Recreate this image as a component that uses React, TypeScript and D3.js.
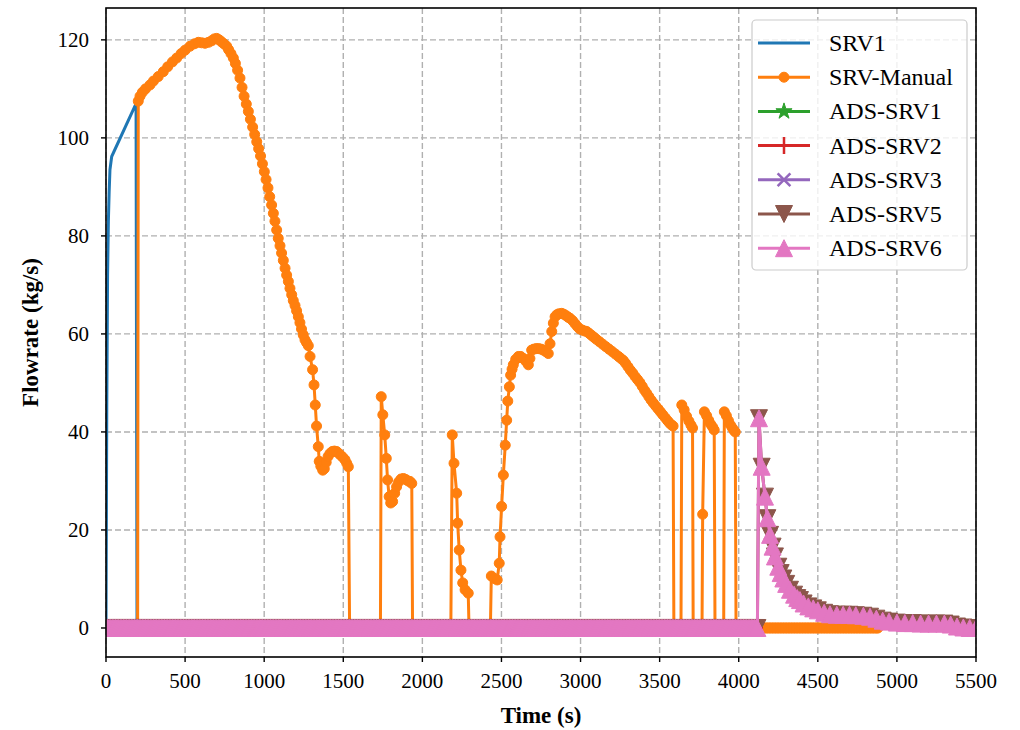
import React from "react";
import * as d3 from "d3";

// ---------------- data ----------------
const xTicks = [0, 500, 1000, 1500, 2000, 2500, 3000, 3500, 4000, 4500, 5000, 5500];
const yTicks = [0, 20, 40, 60, 80, 100, 120];
const xLabel = "Time (s)";
const yLabel = "Flowrate (kg/s)";
const seriesNames = ["SRV1", "SRV-Manual", "ADS-SRV1", "ADS-SRV2", "ADS-SRV3", "ADS-SRV5", "ADS-SRV6"];

// simulation output interval used for long zero-flow stretches (s)
const OUTPUT_STEP = 10;

// SRV1
const srv1Time = [0, 5, 10, 15, 20, 25, 36, 190, 196, 5500];
const srv1Flow = [0, 45, 72, 83, 89, 93.5, 96.2, 107, 0, 0];

// SRV-Manual (non-zero samples)
const manualTime = [
  204, 215, 230, 250, 278, 300, 330, 362, 390, 420, 447, 475, 500, 531, 560, 584, 605, 626, 648, 668,
  685, 700, 715, 730, 745, 763, 775, 790, 805, 818, 832, 847, 860, 873, 887, 900, 913, 927, 940, 953,
  965, 977, 989, 1001, 1012, 1024, 1035, 1047, 1058, 1068, 1079, 1089, 1100, 1110, 1121, 1132, 1142,
  1153, 1163, 1174, 1184, 1195, 1205, 1216, 1226, 1236, 1247, 1258, 1268, 1279, 1290, 1306, 1315,
  1323, 1331, 1342, 1348, 1358, 1370, 1380, 1392, 1404, 1416, 1430, 1444, 1458, 1472, 1485, 1498,
  1511, 1522, 1532,
  1740, 1750, 1762, 1772, 1780, 1790, 1800, 1812, 1825, 1837, 1850, 1865, 1880, 1895, 1910, 1922, 1933,
  2189, 2200, 2217, 2223, 2233, 2244, 2255, 2270, 2290,
  2436, 2455, 2473, 2486, 2491, 2501, 2512, 2524, 2533, 2540, 2550, 2558, 2567, 2575, 2590, 2607,
  2622, 2638, 2655, 2670, 2680, 2691, 2705, 2720, 2735, 2750, 2765, 2780, 2796, 2807, 2818, 2828,
  2839, 2850, 2862, 2881, 2895, 2910, 2922, 2933, 2950, 2965, 2980, 2995, 3010, 3025, 3039, 3055,
  3070, 3085, 3100, 3120, 3140, 3160, 3180, 3200, 3220, 3240, 3255, 3270, 3285, 3300, 3315, 3330,
  3345, 3360, 3375, 3390, 3405, 3418, 3432, 3446, 3460, 3475, 3490, 3505, 3520, 3535, 3550, 3563,
  3576, 3585,
  3640, 3655, 3670, 3685, 3698, 3708,
  3772, 3783, 3797, 3810, 3822, 3835, 3845,
  3909, 3922, 3935, 3948, 3960, 3970, 3978,
];
const manualFlow = [
  107.5, 108.5, 109.3, 110.0, 110.8, 111.6, 112.5, 113.5, 114.5, 115.5, 116.3, 117.2, 117.9, 118.7,
  119.2, 119.5, 119.4, 119.3, 119.5, 119.8, 120.2, 120.3, 120.0, 119.6, 119.2, 118.7, 118.0, 117.2,
  116.3, 115.2, 113.8, 112.2, 110.3, 108.5, 106.9, 105.4, 103.8, 102.2, 100.7, 99.2, 97.8, 96.3, 94.7,
  93.1, 91.5, 89.8, 88.0, 86.3, 84.6, 83.0, 81.2, 79.5, 78.0, 76.5, 75.0, 73.4, 72.0, 70.7, 69.3, 68.0,
  66.8, 65.8, 64.7, 63.5, 62.3, 61.0, 59.8, 58.8, 58.2, 57.6, 55.4, 52.7, 49.6, 45.5, 41.2, 37.0, 34.0,
  33.0, 32.2, 32.5, 33.8, 35.0, 35.6, 36.0, 36.1, 36.0, 35.6, 35.2, 34.8, 34.3, 33.6, 32.9,
  47.2, 43.5, 39.4, 34.6, 30.2, 26.8, 25.5, 25.8, 27.5, 28.8, 29.8, 30.4, 30.5, 30.3, 30.0, 29.9, 29.5,
  39.4, 33.6, 27.5, 21.4, 15.9, 11.8, 9.2, 7.8, 7.1,
  10.6, 10.1, 9.8, 13.2, 18.6, 24.8, 31.2, 37.3, 42.4, 46.3, 49.2, 51.6, 52.8, 53.7, 54.8, 55.4, 55.4,
  55.0, 54.4, 53.7, 55.0, 56.7, 56.9, 57.0, 57.0, 56.9, 56.7, 56.4, 56.0, 58.0, 60.5, 62.2, 63.5, 63.9,
  64.1, 64.2, 64.0, 63.7, 63.4, 63.2, 62.7, 62.1, 61.5, 61.0, 60.8, 60.6, 60.5, 60.1, 59.7, 59.3, 58.9,
  58.4, 57.9, 57.4, 56.9, 56.4, 55.9, 55.4, 55.0, 54.6, 54.0, 53.3, 52.6, 52.0, 51.3, 50.7, 50.1, 49.3,
  48.5, 47.9, 47.2, 46.5, 45.9, 45.3, 44.7, 44.1, 43.5, 42.9, 42.3, 41.8, 41.4, 41.2,
  45.5, 44.5, 43.2, 42.2, 41.4, 40.8,
  23.2, 44.1, 43.3, 42.4, 41.6, 41.0, 40.4,
  44.1, 43.3, 42.3, 41.4, 40.8, 40.3, 40.0,
];
// SRV-Manual closed periods [start, end] (s)
const manualZeroSpans = [
  [0, 200], [1540, 1735], [1938, 2180], [2295, 2430], [3590, 3635], [3712, 3768], [3850, 3905], [3983, 4880],
];

// ADS-SRV5 / ADS-SRV6 (non-zero samples after opening)
const adsTime = [
  4128, 4145, 4166, 4181, 4198, 4214, 4229, 4250, 4265, 4282, 4300, 4324, 4350, 4370, 4387, 4410, 4440,
  4471, 4500, 4540, 4577, 4620, 4660, 4700, 4740, 4788, 4830, 4870, 4910, 4950, 5000, 5050, 5100, 5150,
  5200, 5250, 5300, 5340, 5380, 5420, 5460, 5500,
];
const adsFlow = [
  42.8, 32.9, 26.8, 22.4, 19.0, 16.6, 14.6, 12.5, 11.2, 10.1, 9.0, 7.8, 6.8, 6.1, 5.7, 5.0, 4.4, 4.0,
  3.6, 3.1, 2.8, 2.7, 2.7, 2.7, 2.6, 2.5, 2.3, 1.9, 1.5, 1.3, 1.1, 1.0, 1.0, 0.9, 0.9, 0.9, 0.9, 0.7,
  0.3, 0.1, 0.0, 0.0,
];
const adsZeroSpans = [[0, 4118]];
const adsClosedZeroSpans = [[0, 4100]];

// ---------------- helpers ----------------
type Pt = [number, number];

function buildSeries(times: number[], values: number[], zeroSpans: number[][], step: number): Pt[] {
  const pts: Pt[] = times.map((t, i) => [t, values[i]] as Pt);
  zeroSpans.forEach(([a, b]) => {
    const ts = d3.range(a, b, step);
    ts.push(b);
    ts.forEach((t) => pts.push([t, 0]));
  });
  pts.sort((p, q) => p[0] - q[0]);
  return pts;
}

const W = 1020;
const H = 730;
const PL = 106, PR = 976, PT = 8, PB = 657;

const x = d3.scaleLinear().domain([0, 5500]).range([PL, PR]);
const y = d3.scaleLinear().domain([-5.92, 126.5]).range([PB, PT]);

const colors = ["#1f77b4", "#ff7f0e", "#2ca02c", "#d62728", "#9467bd", "#8c564b", "#e377c2"];
const markerKinds = ["none", "circle", "star", "plus", "x", "tridown", "triup"];

function markerPath(kind: string, s: number): string {
  const h = s / 2;
  if (kind === "circle") return d3.symbol(d3.symbolCircle, Math.PI * h * h)() as string;
  if (kind === "triup") return `M0,${-h}L${h},${h}L${-h},${h}Z`;
  if (kind === "tridown") return `M0,${h}L${h},${-h}L${-h},${-h}Z`;
  if (kind === "plus") return `M${-h},0L${h},0M0,${-h}L0,${h}`;
  if (kind === "x") return `M${-h * 0.75},${-h * 0.75}L${h * 0.75},${h * 0.75}M${-h * 0.75},${h * 0.75}L${h * 0.75},${-h * 0.75}`;
  if (kind === "star") {
    const pts: string[] = [];
    for (let i = 0; i < 10; i++) {
      const r = i % 2 === 0 ? h : h * 0.38;
      const a = (Math.PI / 5) * i - Math.PI / 2;
      pts.push(`${(r * Math.cos(a)).toFixed(2)},${(r * Math.sin(a)).toFixed(2)}`);
    }
    return "M" + pts.join("L") + "Z";
  }
  return "";
}

function markerSize(kind: string): number {
  if (kind === "circle") return 10;
  return 17;
}

const Marker = ({ kind, color, cx, cy }: { kind: string; color: string; cx: number; cy: number }) => {
  const d = markerPath(kind, markerSize(kind));
  const stroked = kind === "plus" || kind === "x";
  return (
    <path
      d={d}
      transform={`translate(${cx},${cy})`}
      fill={stroked ? "none" : color}
      stroke={color}
      strokeWidth={stroked ? 2.5 : 1}
    />
  );
};

export default function App() {
  const srv1 = buildSeries(srv1Time, srv1Flow, [], OUTPUT_STEP);
  const manual = buildSeries(manualTime, manualFlow, manualZeroSpans, OUTPUT_STEP);
  const adsClosed = buildSeries([], [], adsClosedZeroSpans, OUTPUT_STEP);
  const ads = buildSeries(adsTime, adsFlow, adsZeroSpans, OUTPUT_STEP);
  const seriesData: Pt[][] = [srv1, manual, adsClosed, adsClosed, adsClosed, ads, ads];

  const line = d3.line<Pt>().x((d) => x(d[0])).y((d) => y(d[1]));
  const font = "'Liberation Serif', 'Times New Roman', serif";

  const legendX = 752, legendY = 20, legendW = 215, legendH = 250;
  const entryY0 = 43, entryStep = 34.2;

  return (
    <svg width={W} height={H} style={{ position: "absolute", left: 0, top: 0, background: "#fff" }} fontFamily={font}>
      <defs>
        <clipPath id="plotClip">
          <rect x={PL} y={PT} width={PR - PL} height={PB - PT} />
        </clipPath>
      </defs>
      <rect x={0} y={0} width={W} height={H} fill="#fff" />
      {/* grid */}
      <g stroke="#b0b0b0" strokeWidth={1.4} strokeDasharray="6,3">
        {xTicks.map((t) => (
          <line key={"gx" + t} x1={x(t)} x2={x(t)} y1={PT} y2={PB} />
        ))}
        {yTicks.map((t) => (
          <line key={"gy" + t} x1={PL} x2={PR} y1={y(t)} y2={y(t)} />
        ))}
      </g>
      {/* series */}
      <g clipPath="url(#plotClip)">
        {seriesData.map((pts, i) => (
          <g key={seriesNames[i]}>
            <path d={line(pts) as string} fill="none" stroke={colors[i]} strokeWidth={3} strokeLinejoin="round" />
            {markerKinds[i] !== "none" &&
              pts.map((p, j) => <Marker key={j} kind={markerKinds[i]} color={colors[i]} cx={x(p[0])} cy={y(p[1])} />)}
          </g>
        ))}
      </g>
      {/* frame */}
      <rect x={PL} y={PT} width={PR - PL} height={PB - PT} fill="none" stroke="#000" strokeWidth={1.6} />
      {/* x ticks */}
      {xTicks.map((t) => (
        <g key={"xt" + t}>
          <line x1={x(t)} x2={x(t)} y1={PB} y2={PB + 5} stroke="#000" strokeWidth={1.4} />
          <text x={x(t)} y={688} textAnchor="middle" fontSize={21} fill="#000">
            {t}
          </text>
        </g>
      ))}
      {/* y ticks */}
      {yTicks.map((t) => (
        <g key={"yt" + t}>
          <line x1={PL - 5} x2={PL} y1={y(t)} y2={y(t)} stroke="#000" strokeWidth={1.4} />
          <text x={89} y={y(t)} dy="0.35em" textAnchor="end" fontSize={21} fill="#000">
            {t}
          </text>
        </g>
      ))}
      {/* axis labels */}
      <text x={(PL + PR) / 2} y={723} textAnchor="middle" fontSize={23} fontWeight="bold" fill="#000">
        {xLabel}
      </text>
      <text
        transform={`translate(38,${(PT + PB) / 2}) rotate(-90)`}
        textAnchor="middle"
        fontSize={23}
        fontWeight="bold"
        fill="#000"
      >
        {yLabel}
      </text>
      {/* legend */}
      <rect x={legendX} y={legendY} width={legendW} height={legendH} rx={4} fill="#fff" fillOpacity={0.8} stroke="#cccccc" strokeWidth={1.2} />
      {seriesNames.map((name, i) => {
        const cy = entryY0 + i * entryStep;
        return (
          <g key={"lg" + name}>
            <line x1={758} x2={810} y1={cy} y2={cy} stroke={colors[i]} strokeWidth={3} />
            {markerKinds[i] !== "none" && <Marker kind={markerKinds[i]} color={colors[i]} cx={784} cy={cy} />}
            <text x={829} y={cy} dy="0.33em" fontSize={24} fill="#000">
              {name}
            </text>
          </g>
        );
      })}
    </svg>
  );
}
